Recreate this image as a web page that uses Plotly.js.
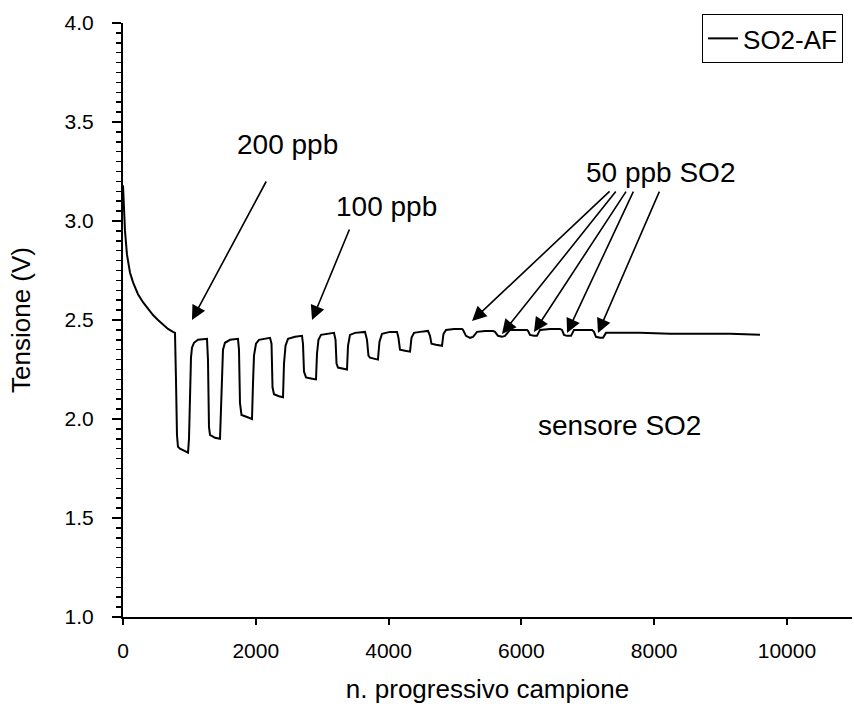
<!DOCTYPE html>
<html>
<head>
<meta charset="utf-8">
<script src="https://cdn.plot.ly/plotly-3.0.1.min.js"></script>
<style>html,body{margin:0;padding:0;background:#fff;}#chart{width:854px;height:704px;}</style>
</head>
<body>
<div id="chart"></div>
<script>
// sample index (n. progressivo campione)
const campione = [0,15,30,60,105,151,226,301,377,452,527,602,678,753,783,
 798,813,828,858,919,979,994,1009,1024,1039,1069,1130,1265,
 1280,1295,1310,1386,1461,1476,1491,1506,1536,1612,1732,
 1747,1762,1785,1868,1943,1958,1973,2003,2048,2214,
 2237,2252,2274,2349,2410,2425,2448,2485,2591,2696,
 2711,2726,2756,2832,2907,2922,2944,2982,3072,3178,
 3201,3216,3238,3314,3374,3389,3419,3494,3645,
 3675,3697,3720,3795,3840,3863,3901,4021,4127,
 4149,4172,4248,4323,4345,4383,4474,4594,
 4624,4646,4714,4805,4827,4865,4986,5106,
 5121,5166,5227,5272,5332,5452,5573,
 5603,5648,5708,5753,5829,5950,6085,
 6100,6130,6190,6235,6281,6431,6582,
 6612,6642,6687,6748,6793,6928,7064,
 7094,7124,7184,7230,7275,7411,7787,8239,8691,9143,9594];
// voltage (Tensione, V)
const tensione = [3.18,3.05,2.95,2.83,2.74,2.69,2.63,2.59,2.555,2.525,2.50,2.475,2.455,2.44,2.435,
 2.20,1.92,1.86,1.85,1.84,1.83,1.90,2.15,2.31,2.36,2.385,2.40,2.405,
 2.30,1.96,1.92,1.905,1.90,2.05,2.28,2.35,2.385,2.40,2.405,
 2.35,2.08,2.02,2.01,2.00,2.18,2.32,2.38,2.40,2.41,
 2.38,2.16,2.125,2.115,2.11,2.28,2.37,2.405,2.415,2.42,
 2.38,2.24,2.21,2.205,2.20,2.33,2.40,2.425,2.43,2.435,
 2.40,2.28,2.26,2.255,2.25,2.37,2.425,2.435,2.44,
 2.40,2.32,2.31,2.305,2.30,2.39,2.43,2.44,2.44,
 2.41,2.35,2.345,2.34,2.41,2.435,2.44,2.445,
 2.42,2.38,2.375,2.37,2.43,2.45,2.455,2.455,
 2.45,2.42,2.41,2.415,2.44,2.445,2.445,
 2.44,2.42,2.415,2.42,2.45,2.45,2.45,
 2.445,2.425,2.42,2.42,2.45,2.455,2.455,
 2.45,2.425,2.42,2.42,2.45,2.45,2.45,
 2.44,2.415,2.41,2.41,2.435,2.435,2.435,2.43,2.43,2.43,2.425];

const seriesName = 'SO2-AF';
const xTickVals = [0,2000,4000,6000,8000,10000];
const yTickVals = [1.0,1.5,2.0,2.5,3.0,3.5,4.0];

// annotation labels
const labelTexts = ['200 ppb','100 ppb','50 ppb SO2','sensore SO2'];
const labelX = [2485,3976,8103,7471];
const labelY = [3.384,3.071,3.247,1.965];
// arrow tips (data coords) and tail offsets (px)
const arrowX = [1039,2847,5257,5708,6190,6688,7154];
const arrowY = [2.50,2.50,2.495,2.429,2.439,2.434,2.434];
const arrowAX = [75,38,139,115,93,67,62];
const arrowAY = [-140,-92,-131,-144,-142,-143,-143];

const FONT = 'Liberation Sans, Arial, Helvetica, sans-serif';

const annotations = [];
labelTexts.forEach((t,i)=>annotations.push({
  x: labelX[i], y: labelY[i], xref:'x', yref:'y', text: t, showarrow:false,
  xanchor:'center', yanchor:'middle', font:{family:FONT,size:28,color:'#000'}
}));
arrowX.forEach((x,i)=>annotations.push({
  x: x, y: arrowY[i], xref:'x', yref:'y', text:'', showarrow:true,
  ax: arrowAX[i], ay: arrowAY[i], arrowhead:2, arrowsize:1.8, arrowwidth:1.6,
  arrowcolor:'#000', standoff:0
}));

const trace = {
  x: campione, y: tensione, type:'scatter', mode:'lines', name: seriesName,
  line:{color:'#000', width:2}
};

const layout = {
  width:854, height:704,
  paper_bgcolor:'#fff', plot_bgcolor:'#fff',
  margin:{l:123, r:2, t:23, b:87, pad:0},
  font:{family:FONT, color:'#000'},
  showlegend:true,
  legend:{x:0.9877, xanchor:'right', y:1.0152, yanchor:'top',
    bordercolor:'#000', borderwidth:1, bgcolor:'#fff',
    font:{family:FONT,size:26,color:'#000'}},
  xaxis:{
    range:[0,10980], showgrid:false, zeroline:false,
    showline:true, linecolor:'#000', linewidth:2,
    ticks:'outside', ticklen:6, tickwidth:2, tickcolor:'#000',
    tickmode:'array', tickvals:xTickVals, ticktext:xTickVals.map(String),
    tickfont:{family:FONT,size:21,color:'#000'}, ticklabelstandoff:8,
    title:{text:'n. progressivo campione', font:{family:FONT,size:26,color:'#000'}, standoff:22},
    automargin:false
  },
  yaxis:{
    range:[1,4], showgrid:false, zeroline:false,
    showline:true, linecolor:'#000', linewidth:2,
    ticks:'outside', ticklen:9, tickwidth:2, tickcolor:'#000',
    tickmode:'array', tickvals:yTickVals, ticktext:yTickVals.map(v=>v.toFixed(1)),
    tickfont:{family:FONT,size:21,color:'#000'}, ticklabelstandoff:14,
    minor:{dtick:0.05, ticks:'outside', ticklen:5, tickwidth:1.5, tickcolor:'#000', showgrid:false},
    title:{text:'Tensione (V)', font:{family:FONT,size:26,color:'#000'}, standoff:26},
    automargin:false
  },
  annotations: annotations
};

Plotly.newPlot('chart',[trace],layout,{displayModeBar:false, staticPlot:true});
</script>
</body>
</html>
